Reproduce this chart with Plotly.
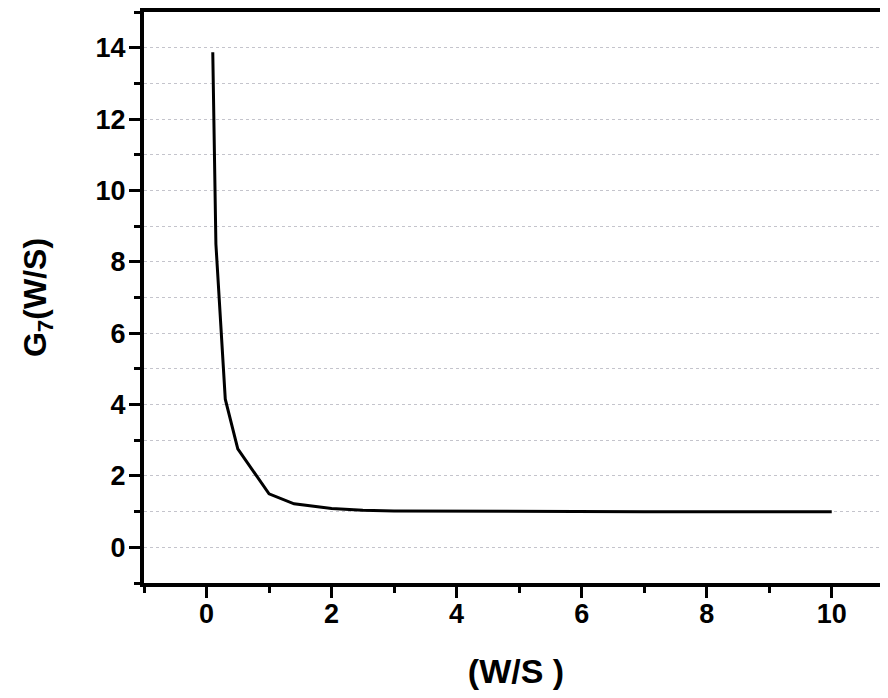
import plotly.graph_objects as go

ws = [0.1, 0.15, 0.3, 0.5, 1.0, 1.4, 2.0, 2.5, 3.0, 4.0, 5.0, 6.0, 7.0, 8.0, 9.0, 10.0]
g7 = [13.87, 8.5, 4.15, 2.76, 1.5, 1.22, 1.09, 1.04, 1.02, 1.01, 1.0, 1.0, 1.0, 1.0, 1.0, 1.0]

x_ticks = [0, 2, 4, 6, 8, 10]
y_ticks = [0, 2, 4, 6, 8, 10, 12, 14]

fig = go.Figure()
fig.add_trace(go.Scatter(x=ws, y=g7, mode="lines",
                         line=dict(color="black", width=3), showlegend=False))

font_family = "Liberation Sans, Arial, sans-serif"
# page body has an 8px margin, so the figure is drawn offset by 8px
fig.update_layout(
    width=880, height=690,
    margin=dict(l=136, r=0, t=1, b=115),
    paper_bgcolor="white", plot_bgcolor="white",
    font=dict(family=font_family, color="black"),
)
fig.update_xaxes(
    range=[-1, 10.9], tickvals=x_ticks,
    ticks="outside", ticklen=11, tickwidth=3, tickcolor="black",
    minor=dict(dtick=1, ticks="outside", ticklen=6, tickwidth=3, tickcolor="black", showgrid=False),
    showline=True, linewidth=4, linecolor="black", mirror=True,
    showgrid=False, zeroline=False, ticklabelstandoff=-7,
    tickfont=dict(size=27, family=font_family, weight="bold"),
    title=dict(text="<b>(W/S )</b>", font=dict(size=34, family=font_family), standoff=32),
)
fig.update_yaxes(
    range=[-1, 15], tickvals=y_ticks,
    ticks="outside", ticklen=11, tickwidth=3, tickcolor="black",
    minor=dict(dtick=1, ticks="outside", ticklen=6, tickwidth=3, tickcolor="black",
               showgrid=True, gridcolor="#c4c4cc", griddash="dot", gridwidth=1),
    showgrid=True, gridcolor="#c4c4cc", griddash="dot", gridwidth=1,
    showline=True, linewidth=4, linecolor="black",
    zeroline=False, ticklabelstandoff=-2,
    tickfont=dict(size=27, family=font_family, weight="bold"),
    title=dict(text="<b>G<sub>7</sub>(W/S)</b>", font=dict(size=32, family=font_family), standoff=40),
)

fig.write_html("out.html")
